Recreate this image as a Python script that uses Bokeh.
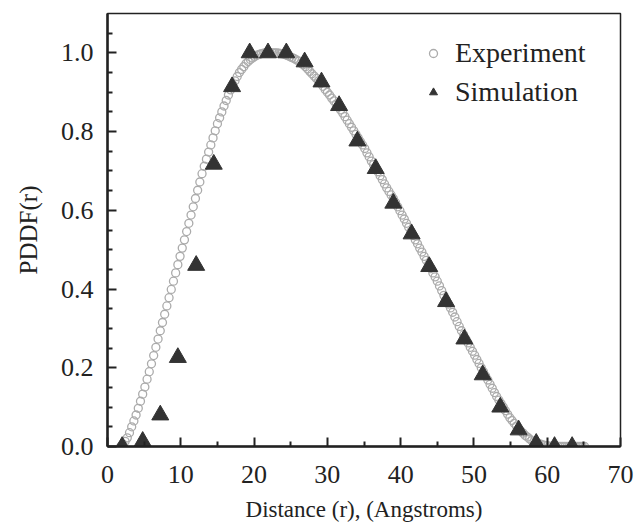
from bokeh.plotting import figure
from bokeh.models import Range1d, Legend, LegendItem, FixedTicker, NumeralTickFormatter
from bokeh.embed import file_html
from bokeh.resources import INLINE

# ---- data ----
exp_r = [
    1.8, 2.1, 2.4, 2.7, 3.0, 3.3, 3.6, 3.9, 4.2, 4.5,
    4.8, 5.1, 5.4, 5.7, 6.0, 6.3, 6.6, 6.9, 7.2, 7.5,
    7.8, 8.1, 8.4, 8.7, 9.0, 9.3, 9.6, 9.9, 10.2, 10.5,
    10.8, 11.1, 11.4, 11.7, 12.0, 12.3, 12.6, 12.9, 13.2, 13.5,
    13.8, 14.1, 14.4, 14.7, 15.0, 15.3, 15.6, 15.9, 16.2, 16.5,
    16.8, 17.1, 17.4, 17.7, 18.0, 18.3, 18.6, 18.9, 19.2, 19.5,
    19.8, 20.1, 20.4, 20.7, 21.0, 21.3, 21.6, 21.9, 22.2, 22.5,
    22.8, 23.1, 23.4, 23.7, 24.0, 24.3, 24.6, 24.9, 25.2, 25.5,
    25.8, 26.1, 26.4, 26.7, 27.0, 27.3, 27.6, 27.9, 28.2, 28.5,
    28.8, 29.1, 29.4, 29.7, 30.0, 30.3, 30.6, 30.9, 31.2, 31.5,
    31.8, 32.1, 32.4, 32.7, 33.0, 33.3, 33.6, 33.9, 34.2, 34.5,
    34.8, 35.1, 35.4, 35.7, 36.0, 36.3, 36.6, 36.9, 37.2, 37.5,
    37.8, 38.1, 38.4, 38.7, 39.0, 39.3, 39.6, 39.9, 40.2, 40.5,
    40.8, 41.1, 41.4, 41.7, 42.0, 42.3, 42.6, 42.9, 43.2, 43.5,
    43.8, 44.1, 44.4, 44.7, 45.0, 45.3, 45.6, 45.9, 46.2, 46.5,
    46.8, 47.1, 47.4, 47.7, 48.0, 48.3, 48.6, 48.9, 49.2, 49.5,
    49.8, 50.1, 50.4, 50.7, 51.0, 51.3, 51.6, 51.9, 52.2, 52.5,
    52.8, 53.1, 53.4, 53.7, 54.0, 54.3, 54.6, 54.9, 55.2, 55.5,
    55.8, 56.1, 56.4, 56.7, 57.0, 57.3, 57.6, 57.9, 58.2, 58.5,
    58.8, 59.1, 59.4, 59.7, 60.0, 60.3, 60.6, 60.9, 61.2, 61.5,
    61.8, 62.1, 62.4, 62.7, 63.0, 63.3, 63.6, 63.9, 64.2, 64.5,
    64.8, 65.1,
]
exp_pddf = [
    0.000, 0.006, 0.013, 0.022, 0.035, 0.050, 0.065, 0.080, 0.097, 0.115,
    0.133, 0.151, 0.171, 0.190, 0.210, 0.231, 0.252, 0.273, 0.294, 0.315,
    0.336, 0.357, 0.378, 0.399, 0.420, 0.441, 0.462, 0.483, 0.504, 0.525,
    0.546, 0.567, 0.588, 0.609, 0.630, 0.651, 0.672, 0.693, 0.712, 0.730,
    0.748, 0.766, 0.784, 0.802, 0.820, 0.835, 0.850, 0.865, 0.879, 0.893,
    0.906, 0.919, 0.929, 0.940, 0.950, 0.958, 0.965, 0.973, 0.978, 0.983,
    0.987, 0.991, 0.994, 0.996, 0.998, 0.999, 1.000, 1.000, 1.000, 1.000,
    1.000, 1.000, 0.999, 0.998, 0.997, 0.995, 0.993, 0.990, 0.988, 0.985,
    0.982, 0.979, 0.974, 0.970, 0.965, 0.959, 0.953, 0.947, 0.941, 0.935,
    0.929, 0.922, 0.915, 0.907, 0.900, 0.893, 0.885, 0.878, 0.870, 0.862,
    0.855, 0.847, 0.838, 0.829, 0.820, 0.811, 0.802, 0.793, 0.784, 0.775,
    0.766, 0.757, 0.746, 0.736, 0.725, 0.716, 0.707, 0.698, 0.688, 0.678,
    0.667, 0.657, 0.648, 0.639, 0.630, 0.620, 0.609, 0.599, 0.588, 0.578,
    0.567, 0.557, 0.546, 0.536, 0.525, 0.515, 0.504, 0.494, 0.483, 0.473,
    0.462, 0.452, 0.441, 0.431, 0.420, 0.408, 0.396, 0.384, 0.373, 0.362,
    0.352, 0.341, 0.329, 0.317, 0.305, 0.294, 0.284, 0.273, 0.263, 0.252,
    0.242, 0.232, 0.221, 0.211, 0.200, 0.190, 0.179, 0.169, 0.158, 0.148,
    0.137, 0.127, 0.118, 0.109, 0.100, 0.091, 0.082, 0.073, 0.066, 0.059,
    0.052, 0.045, 0.039, 0.034, 0.028, 0.024, 0.019, 0.015, 0.012, 0.010,
    0.008, 0.006, 0.004, 0.003, 0.002, 0.001, 0.000, 0.000, 0.000, 0.000,
    0.000, 0.000, 0.000, 0.000, 0.000, 0.000, 0.000, 0.000, 0.000, 0.000,
    0.000, 0.000,
]

sim_r = [2.0, 4.8, 7.2, 9.6, 12.1, 14.5, 17.0, 19.4, 21.9, 24.4, 26.9, 29.2, 31.6,
         34.1, 36.6, 39.0, 41.5, 43.9, 46.2, 48.7, 51.2, 53.6, 56.1, 58.5, 61.0, 63.4]
sim_pddf = [0.0, 0.013, 0.08, 0.226, 0.46, 0.717, 0.914, 1.0, 1.0, 1.0, 0.977, 0.926, 0.866,
            0.776, 0.706, 0.618, 0.54, 0.457, 0.368, 0.273, 0.182, 0.10, 0.042, 0.008, 0.0, 0.0]

x_ticks = [0, 10, 20, 30, 40, 50, 60, 70]
x_minor = [5, 15, 25, 35, 45, 55, 65]
y_ticks = [0.0, 0.2, 0.4, 0.6, 0.8, 1.0]
y_minor = [0.05, 0.1, 0.15, 0.25, 0.3, 0.35, 0.45, 0.5, 0.55, 0.65, 0.7, 0.75,
           0.85, 0.9, 0.95, 1.05]

FONT = "Liberation Serif"
INK = "#222222"

p = figure(width=640, height=524, output_backend="svg", toolbar_location=None,
           x_range=Range1d(0, 70), y_range=Range1d(0, 1.10),
           min_border_left=107, min_border_right=20, min_border_top=13,
           min_border_bottom=78)

p.grid.visible = False
p.background_fill_color = "white"
p.border_fill_color = "white"
p.outline_line_color = INK
p.outline_line_width = 1.5

exp_g = p.scatter(exp_r, exp_pddf, marker="circle", size=8, fill_color=None,
                  line_color="#ababab", line_width=1.3)
sim_g = p.scatter(sim_r, sim_pddf, marker="triangle", size=17, fill_color="#333333",
                  line_color="#333333")

p.xaxis.ticker = FixedTicker(ticks=x_ticks, minor_ticks=x_minor)
p.yaxis.ticker = FixedTicker(ticks=y_ticks, minor_ticks=y_minor)
p.yaxis.formatter = NumeralTickFormatter(format="0.0")

for ax in (p.xaxis[0], p.yaxis[0]):
    ax.axis_line_color = INK
    ax.axis_line_width = 2.5
    ax.major_tick_line_color = INK
    ax.minor_tick_line_color = INK
    ax.major_tick_line_width = 2
    ax.minor_tick_line_width = 2
    ax.major_tick_in = 9
    ax.major_tick_out = 0
    ax.minor_tick_in = 5
    ax.minor_tick_out = 0
    ax.major_label_text_font = FONT
    ax.major_label_text_color = INK
    ax.major_label_text_font_size = "26px"
    ax.axis_label_text_font = FONT
    ax.axis_label_text_color = INK
    ax.axis_label_text_font_style = "normal"

p.xaxis.axis_label = "Distance (r), (Angstroms)"
p.xaxis.axis_label_text_font_size = "23px"
p.xaxis.major_label_standoff = 19
p.xaxis.axis_label_standoff = 11

p.yaxis.axis_label = "PDDF(r)"
p.yaxis.axis_label_text_font_size = "25px"
p.yaxis.major_label_standoff = 14
p.yaxis.axis_label_standoff = 16

legend = Legend(items=[LegendItem(label="Experiment", renderers=[exp_g]),
                       LegendItem(label="Simulation", renderers=[sim_g])],
                location=(316, 338))
legend.label_text_font = FONT
legend.label_text_font_size = "28px"
legend.label_text_color = INK
legend.label_height = 30
legend.glyph_height = 24
legend.glyph_width = 20
legend.label_standoff = 12
legend.spacing = 7
legend.padding = 0
legend.margin = 0
legend.background_fill_alpha = 0
legend.border_line_alpha = 0
p.add_layout(legend)

open("out.html", "w").write(file_html(p, INLINE))
